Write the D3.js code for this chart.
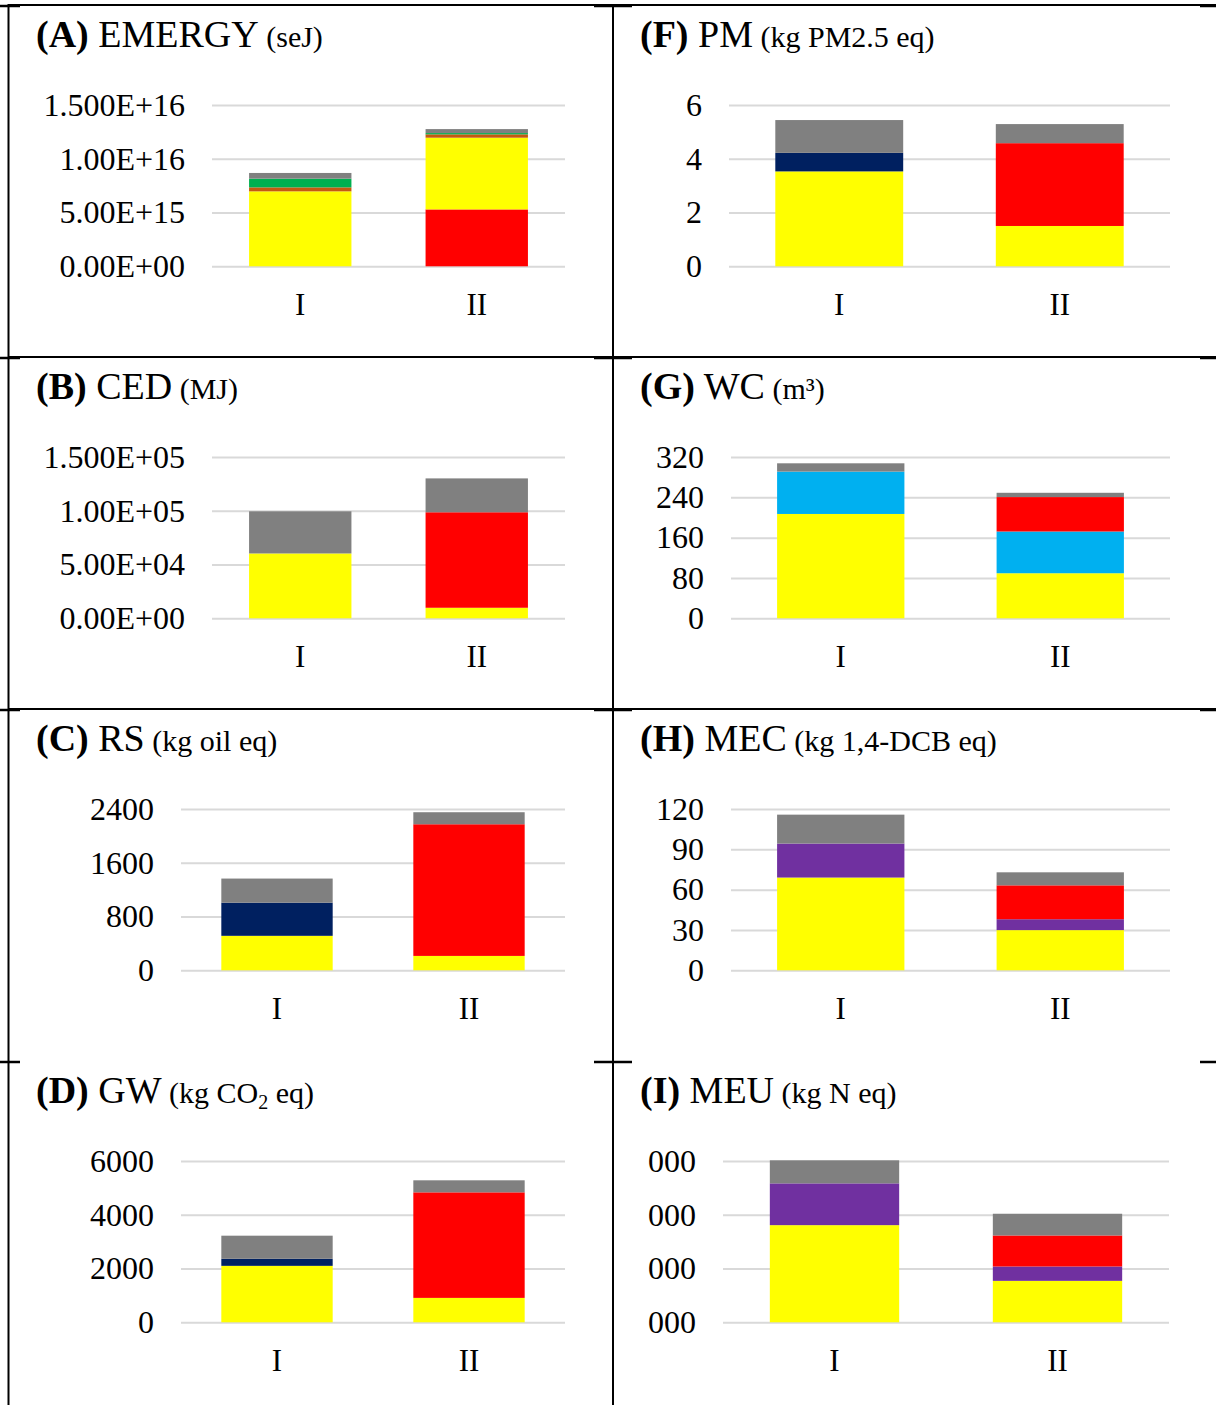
<!DOCTYPE html>
<html>
<head>
<meta charset="utf-8">
<script src="https://cdn.jsdelivr.net/npm/d3@7"></script>
<style>
  html, body { margin: 0; padding: 0; background: #fff; }
  svg { display: block; }
  text { font-family: "Liberation Serif", "Times New Roman", serif; fill: #000; }
</style>
</head>
<body>
<svg id="chart" width="1216" height="1405"></svg>
<script>
// ---- shared ----
const categories = ["I", "II"];

// (A) EMERGY, seJ
const emergySeries = ["red", "yellow", "brown", "green", "gray"];
const emergyI  = [0, 6.97e15, 0.37e15, 0.81e15, 0.53e15];
const emergyII = [5.29e15, 6.67e15, 0.31e15, 0.12e15, 0.37e15];
const emergyTicks = [0, 5e15, 1e16, 1.5e16];
const emergyTickLabels = ["0.00E+00", "5.00E+15", "1.00E+16", "1.500E+16"];

// (B) CED, MJ
const cedSeries = ["yellow", "red", "gray"];
const cedI  = [6.03e4, 0, 3.92e4];
const cedII = [0.98e4, 8.88e4, 3.15e4];
const cedTicks = [0, 5e4, 1e5, 1.5e5];
const cedTickLabels = ["0.00E+00", "5.00E+04", "1.00E+05", "1.500E+05"];

// (C) RS, kg oil eq
const rsSeries = ["yellow", "navy", "red", "gray"];
const rsI  = [513, 493, 0, 359];
const rsII = [214, 0, 1959, 179];
const rsTicks = [0, 800, 1600, 2400];
const rsTickLabels = ["0", "800", "1600", "2400"];

// (D) GW, kg CO2 eq
const gwSeries = ["yellow", "navy", "red", "gray"];
const gwI  = [2100, 262, 0, 860];
const gwII = [908, 0, 3926, 448];
const gwTicks = [0, 2000, 4000, 6000];
const gwTickLabels = ["0", "2000", "4000", "6000"];

// (F) PM, kg PM2.5 eq
const pmSeries = ["yellow", "navy", "red", "gray"];
const pmI  = [3.53, 0.69, 0, 1.22];
const pmII = [1.50, 0, 3.08, 0.71];
const pmTicks = [0, 2, 4, 6];
const pmTickLabels = ["0", "2", "4", "6"];

// (G) WC, m3
const wcSeries = ["yellow", "cyan", "red", "gray"];
const wcI  = [207, 84, 0, 16.5];
const wcII = [89.4, 82.8, 68.3, 8.5];
const wcTicks = [0, 80, 160, 240, 320];
const wcTickLabels = ["0", "80", "160", "240", "320"];

// (H) MEC, kg 1,4-DCB eq
const mecSeries = ["yellow", "purple", "red", "gray"];
const mecI  = [69, 25.3, 0, 21.5];
const mecII = [29.9, 8.1, 25.2, 9.7];
const mecTicks = [0, 30, 60, 90, 120];
const mecTickLabels = ["0", "30", "60", "90", "120"];

// (I) MEU, kg N eq
const meuSeries = ["yellow", "purple", "red", "gray"];
const meuI  = [0.01807, 0.00777, 0, 0.00429];
const meuII = [0.00771, 0.00267, 0.00577, 0.00404];
const meuTicks = [0, 0.01, 0.02, 0.03];
const meuTickLabels = ["000", "000", "000", "000"];

// ---- styling ----
const colors = {
  yellow: "#FFFF00", red: "#FF0000", gray: "#808080", navy: "#002060",
  cyan: "#00B0F0", purple: "#7030A0", green: "#00B050", brown: "#C55A11"
};

const panels = [
  { tag: "(A)", name: "EMERGY", unit: ["(seJ)"], series: emergySeries, vals: [emergyI, emergyII],
    ticks: emergyTicks, labels: emergyTickLabels, col: 0, row: 0, left: 212, right: 565 },
  { tag: "(B)", name: "CED", unit: ["(MJ)"], series: cedSeries, vals: [cedI, cedII],
    ticks: cedTicks, labels: cedTickLabels, col: 0, row: 1, left: 212, right: 565 },
  { tag: "(C)", name: "RS", unit: ["(kg oil eq)"], series: rsSeries, vals: [rsI, rsII],
    ticks: rsTicks, labels: rsTickLabels, col: 0, row: 2, left: 181, right: 565 },
  { tag: "(D)", name: "GW", unit: ["(kg CO", "2", " eq)"], series: gwSeries, vals: [gwI, gwII],
    ticks: gwTicks, labels: gwTickLabels, col: 0, row: 3, left: 181, right: 565 },
  { tag: "(F)", name: "PM", unit: ["(kg PM2.5 eq)"], series: pmSeries, vals: [pmI, pmII],
    ticks: pmTicks, labels: pmTickLabels, col: 1, row: 0, left: 729, right: 1170 },
  { tag: "(G)", name: "WC", unit: ["(m³)"], series: wcSeries, vals: [wcI, wcII],
    ticks: wcTicks, labels: wcTickLabels, col: 1, row: 1, left: 731, right: 1170 },
  { tag: "(H)", name: "MEC", unit: ["(kg 1,4-DCB eq)"], series: mecSeries, vals: [mecI, mecII],
    ticks: mecTicks, labels: mecTickLabels, col: 1, row: 2, left: 731, right: 1170 },
  { tag: "(I)", name: "MEU", unit: ["(kg N eq)"], series: meuSeries, vals: [meuI, meuII],
    ticks: meuTicks, labels: meuTickLabels, col: 1, row: 3, left: 723, right: 1169 }
];

const ROW_H = 352;
const svg = d3.select("#chart");
svg.append("rect").attr("width", 1216).attr("height", 1405).attr("fill", "#fff");

panels.forEach(p => {
  const off = p.row * ROW_H;
  const g = svg.append("g");
  const titleX = p.col === 0 ? 36 : 640;

  // title: bold tag, indicator name, smaller unit
  const t = g.append("text").attr("x", titleX).attr("y", 47 + off).style("font-size", "38px");
  t.append("tspan").attr("font-weight", "bold").text(p.tag);
  t.append("tspan").text(" " + p.name);
  t.append("tspan").style("font-size", "30px").text(" " + p.unit[0]);
  if (p.unit.length > 1) {
    t.append("tspan").style("font-size", "20px").attr("dy", 6).text(p.unit[1]);
    t.append("tspan").style("font-size", "30px").attr("dy", -6).text(p.unit[2]);
  }

  // scales
  const x = d3.scaleBand().domain(categories).range([p.left, p.right])
    .paddingInner(0.42).paddingOuter(0.21);
  const y = d3.scaleLinear().domain([0, d3.max(p.ticks)]).range([266.3 + off, 105 + off]);

  // gridlines + value labels
  const yAxis = d3.axisLeft(y).tickValues(p.ticks)
    .tickFormat((d, i) => p.labels[i])
    .tickSizeInner(-(p.right - p.left)).tickSizeOuter(0).tickPadding(27);
  const ya = g.append("g").attr("transform", `translate(${p.left},0)`).call(yAxis);
  ya.select(".domain").remove();
  ya.selectAll(".tick line").attr("stroke", "#d9d9d9").attr("stroke-width", 2);
  ya.selectAll(".tick text").style("font-size", "32px").attr("font-family", null);

  // stacked bars
  const rows = categories.map((c, ci) => {
    const r = { cat: c };
    p.series.forEach((s, si) => { r[s] = p.vals[ci][si]; });
    return r;
  });
  const stacked = d3.stack().keys(p.series)(rows);
  g.selectAll("g.layer").data(stacked).join("g")
    .attr("class", "layer")
    .attr("fill", d => colors[d.key])
    .selectAll("rect").data(d => d.filter(v => v[1] - v[0] > 0)).join("rect")
    .attr("x", d => x(d.data.cat))
    .attr("width", x.bandwidth())
    .attr("y", d => y(d[1]))
    .attr("height", d => y(d[0]) - y(d[1]));

  // category labels
  const xAxis = d3.axisBottom(x).tickSize(0).tickPadding(27);
  const xa = g.append("g").attr("transform", `translate(0,${266.3 + off})`).call(xAxis);
  xa.select(".domain").remove();
  xa.selectAll(".tick text").style("font-size", "31px").attr("font-family", null);
});

// table frame
const frame = svg.append("g").attr("stroke", "#000").attr("fill", "none");
[8.5, 613].forEach(xv => {
  frame.append("line").attr("x1", xv).attr("x2", xv).attr("y1", 4).attr("y2", 1405).attr("stroke-width", 2);
});
[5, 357, 709].forEach(yv => {
  frame.append("line").attr("x1", 8).attr("x2", 1216).attr("y1", yv).attr("y2", yv).attr("stroke-width", 2);
});
[5, 357, 709, 1061].forEach(yv => {
  [[0, 20], [594, 632], [1200, 1216]].forEach(([a, b]) => {
    frame.append("line").attr("x1", a).attr("x2", b).attr("y1", yv + 1).attr("y2", yv + 1).attr("stroke-width", 2.5);
  });
});
</script>
</body>
</html>
